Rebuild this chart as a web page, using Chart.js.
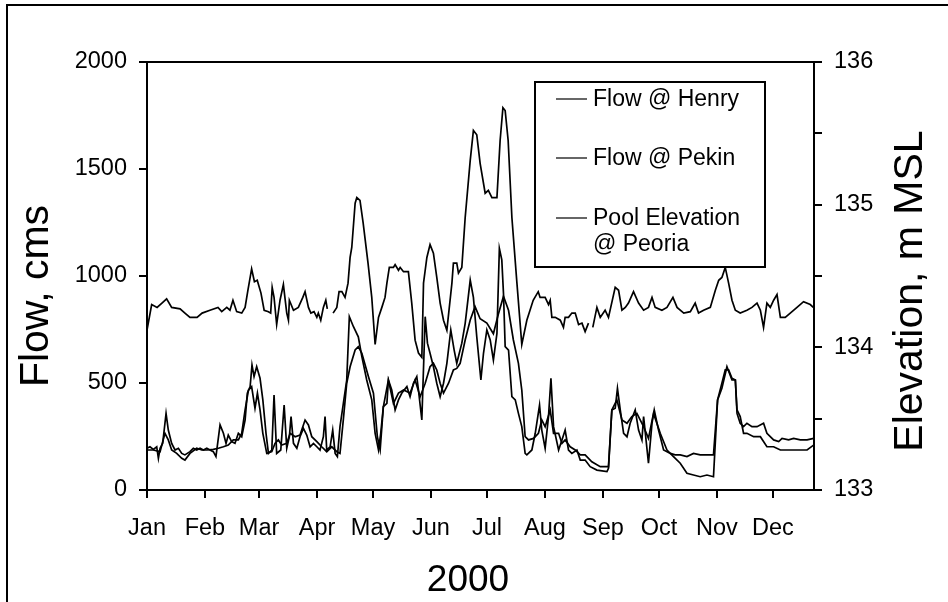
<!DOCTYPE html>
<html><head><meta charset="utf-8">
<script src="https://cdn.jsdelivr.net/npm/chart.js@4.4.1/dist/chart.umd.min.js"></script>
<style>html,body{margin:0;padding:0;background:#fff;}#wrap{width:948px;height:602px;}</style>
</head><body><div id="wrap"><canvas id="c" width="948" height="602"></canvas></div>
<script>
const monthStarts = [0,31,60,91,121,152,182,213,244,274,305,335];
const monthLabels = ['Jan','Feb','Mar','Apr','May','Jun','Jul','Aug','Sep','Oct','Nov','Dec'];
const flowTicks = [0,500,1000,1500,2000];
const elevTicks = [133,134,135,136];
const seriesNames = ['Flow @ Henry','Flow @ Pekin',['Pool Elevation','@ Peoria']];

const henryDays = [0,1.6,3.4,5.2,6.1,7.0,8.4,10.2,11.4,13.2,15.0,16.8,18.6,20.3,23.0,24.8,26.6,28.4,30.2,32.0,33.7,35.5,36.9,39.1,40.9,42.3,43.5,45.3,47.1,48.9,50.7,52.5,53.7,55.2,56.2,57.3,58.7,60.5,62.0,63.7,65.0,66.8,68.0,69.4,71.6,73.4,74.8,76.2,77.1,78.4,80.2,81.9,83.7,85.5,87.3,89.1,90.9,92.6,94.4,95.3,96.2,98.0,99.4,100.7,101.9,103.3,105.1,106.9,108.3,110.5,113.1,115.0,117.6,120.3,122.1,123.9,125.1,126.5,128.4,129.2,131.0,132.8,134.6,136.4,139.1,140.8,142.6,144.4,145.3,147.1,148.9,150.1,151.5,153.3,155.1,156.9,158.7,160.5,162.6,164.4,165.8,168.5,170.3,173.0,174.7,176.5,178.7,180.1,181.9,183.7,185.4,187.3,188.6,189.9,190.8,191.7,193.5,195.3,197.1,198.8,200.6,202.4,203.3,206.0,207.8,210.1,211.3,213.1,214.9,216.2,217.6,220.3,222.1,223.8,225.6,227.4,230.1,231.9,234.5,237.2,240.8,246.2,247.0,248.8,250.6,251.8,253.3,255.1,256.9,258.6,261.3,263.1,264.9,265.8,268.4,270.3,271.5,273.8,276.5,280.1,282.7,285.4,289.0,292.5,296.1,300.6,303.2,305.4,307.7,309.5,311.3,313.1,314.9,315.8,317.5,319.3,321.1,323.8,326.5,330.0,331.8,335.4,338.1,339.9,343.4,346.1,349.7,353.3,356.8];
const henryFlow = [195,202,190,202,148,195,218,358,280,218,187,195,171,164,179,195,187,195,187,195,187,179,156,304,265,218,257,226,218,265,249,327,452,483,584,530,576,522,421,265,171,187,444,171,187,397,195,249,343,218,195,249,288,257,202,218,202,187,249,343,187,202,280,171,156,296,405,514,810,763,716,623,514,421,265,187,265,389,405,514,467,374,421,453,483,436,499,530,467,327,810,686,639,576,499,436,499,592,748,654,592,686,779,981,900,716,514,639,748,701,607,732,1129,1075,919,670,654,436,421,358,296,171,164,187,265,397,280,195,343,522,296,187,234,280,187,171,187,140,140,109,93,86,101,374,382,475,374,265,249,312,374,280,234,343,125,312,374,280,187,171,164,164,156,171,164,164,164,421,499,561,561,522,514,358,312,296,312,296,296,312,265,234,226,241,234,241,234,234,241];

const pekinDays = [0,3.4,7.0,9.6,11.4,13.2,15.9,18.6,20.3,23.0,26.6,29.3,32.0,35.5,38.2,40.9,43.5,46.2,48.9,50.7,52.5,54.3,56.0,57.8,59.1,60.5,62.0,64.1,66.8,68.5,70.3,72.1,74.8,76.6,79.3,81.9,84.6,86.4,88.2,90.9,93.5,96.2,98.9,101.6,103.3,105.1,106.9,108.7,111.4,113.1,115.0,118.5,121.2,123.3,124.8,126.5,129.2,131.9,134.6,137.3,140.8,143.5,146.2,148.9,151.5,153.3,155.1,156.9,158.7,161.4,164.0,165.8,167.6,170.3,173.0,175.6,178.3,181.9,185.4,188.0,190.8,193.5,196.1,198.8,200.6,202.4,204.2,206.9,209.5,211.3,213.1,215.8,217.6,220.3,222.1,223.8,226.5,229.2,231.9,234.5,238.1,242.6,247.0,248.8,251.5,254.2,256.9,259.5,262.2,265.8,268.4,271.1,274.7,278.3,281.8,285.4,289.0,292.5,296.1,299.7,303.2,305.4,307.7,310.4,313.1,314.9,315.8,317.5,319.3,321.1,324.7,328.3,331.8,335.4,339.0,342.5,346.1,349.7,353.3,356.8];
const pekinFlow = [187,187,179,265,234,187,171,148,140,171,195,187,187,190,195,202,210,234,234,265,374,467,483,382,452,374,265,171,179,218,234,210,218,265,249,257,327,304,249,226,202,179,202,179,171,330,499,576,654,670,639,530,452,249,187,389,514,405,453,467,453,514,436,499,576,592,561,499,453,499,561,568,592,701,794,857,800,780,730,820,905,840,701,592,467,249,234,241,265,327,296,374,265,265,218,234,202,187,164,164,132,109,109,374,421,327,312,343,358,296,241,358,265,187,156,125,78,70,62,70,62,421,475,576,514,514,374,343,265,265,249,249,202,202,187,187,187,187,187,210];

const elevDays = [0,2.5,5.4,8,10.5,13.2,17.7,20.3,23,26.8,29.5,33.7,38,40,42.7,44.4,46,48,50.7,52.5,54,56,57.5,59,61,62.7,65,66.2,67,68,69.4,71.2,73,74.8,75.7,76.2,78.4,81,83.4,84.6,86.4,87.7,89.4,90.9,91.7,93,94.4,95.7,96.5,97.5,99.6,101.6,102.8,104.3,106,107.6,108.7,109.6,111.4,112.3,114,115.7,118.3,120.3,122.1,123.9,125.7,127.4,128.4,129.7,131.9,132.8,134.6,135.5,137.3,139.9,141.7,143.5,145.3,147.1,148,149.8,151.5,153.3,155.1,156.9,158.7,160.5,163.2,164,165.8,166.7,168.5,170.3,173,174.7,176.5,178.3,181,182.7,184.6,187.3,189,190.5,191.7,193.3,195.3,198,200.6,203.3,206.7,209.4,210.4,213.1,214.9,215.8,216.7,218.5,221.2,222.9,223.8,225.6,227.4,229.2,231,232.8,234.5,236.3,237.5,238.6,240.8,242.6,245.2,247,250.6,252.4,254.2,256,257.7,260.4,263.1,265.8,268.4,270.3,272,275.6,278.3,281.5,283.7,287.3,290.8,293.4,295.2,297.9,301.5,304.2,306,307.7,309.5,311.3,313.1,314.9,317.5,321.1,323.8,326.5,328.3,330,331.8,333.6,335.4,337.2,339,341.6,344.3,347.9,351.4,355,356.6];
const elevValues = [134.12,134.30,134.28,134.31,134.34,134.28,134.27,134.24,134.21,134.21,134.24,134.26,134.28,134.25,134.28,134.26,134.33,134.25,134.24,134.28,134.40,134.55,134.46,134.47,134.38,134.26,134.25,134.24,134.42,134.35,134.16,134.33,134.44,134.24,134.19,134.33,134.26,134.28,134.35,134.39,134.28,134.24,134.25,134.21,134.24,134.19,134.28,134.33,134.27,null,134.24,134.28,134.39,134.39,134.35,134.45,134.63,134.70,135.01,135.05,135.03,134.87,134.59,134.35,134.02,134.21,134.28,134.35,134.45,134.56,134.56,134.58,134.54,134.56,134.53,134.53,134.31,134.05,133.96,133.93,134.45,134.63,134.72,134.66,134.49,134.31,134.19,134.12,134.45,134.59,134.59,134.52,134.56,134.91,135.31,135.52,135.49,135.29,135.08,135.10,135.05,135.05,135.45,135.68,135.66,135.45,134.91,134.45,134.02,134.19,134.33,134.39,134.35,134.35,134.30,134.33,134.21,134.21,134.19,134.14,134.21,134.21,134.24,134.24,134.16,134.17,134.11,134.17,null,134.14,134.28,134.21,134.26,134.21,134.42,134.40,134.26,134.28,134.31,134.39,134.31,134.26,134.28,134.35,134.28,134.26,134.28,134.35,134.28,134.24,134.25,134.31,134.24,134.26,134.28,134.40,134.47,134.49,134.56,134.45,134.33,134.26,134.24,134.26,134.28,134.31,134.26,134.14,134.31,134.28,134.33,134.37,134.21,134.21,134.24,134.28,134.32,134.30,134.28];

const FONT = "'Liberation Sans', Arial, Helvetica, sans-serif";
const toXY = (xs, ys) => xs.map((d, i) => ({x: d, y: ys[i]}));
const tickGrid = {display: true, drawOnChartArea: false, drawTicks: true, tickLength: 8, color: '#000', lineWidth: 2};
const axisBorder = {display: true, color: '#000', width: 2};
const tickFont = {family: FONT, size: 23.5};

const decor = {
  id: 'decor',
  afterDraw(chart) {
    const ctx = chart.ctx, a = chart.chartArea;
    ctx.save();
    ctx.strokeStyle = '#000';
    ctx.lineWidth = 2;
    ctx.beginPath(); ctx.moveTo(7, 602); ctx.lineTo(7, 5); ctx.lineTo(948, 5); ctx.stroke();
    ctx.beginPath(); ctx.moveTo(a.left - 1, a.top); ctx.lineTo(a.right + 1, a.top); ctx.stroke();
    // legend
    const lx = 535, ly = 82, lw = 230, lh = 185;
    ctx.fillStyle = '#fff'; ctx.fillRect(lx, ly, lw, lh);
    ctx.strokeRect(lx, ly, lw, lh);
    const rows = [99, 158, 218];
    ctx.font = '23px ' + FONT;
    ctx.fillStyle = '#000';
    ctx.textAlign = 'left'; ctx.textBaseline = 'middle';
    chart.data.datasets.forEach((ds, i) => {
      ctx.lineWidth = 1.2;
      ctx.beginPath(); ctx.moveTo(556, rows[i]); ctx.lineTo(587, rows[i]); ctx.stroke();
      const lines = Array.isArray(seriesNames[i]) ? seriesNames[i] : [seriesNames[i]];
      lines.forEach((t, k) => ctx.fillText(t, 593, rows[i] + 1 + k * 26));
    });
    // axis titles
    ctx.textAlign = 'center'; ctx.textBaseline = 'middle';
    ctx.font = '41px ' + FONT;
    ctx.save(); ctx.translate(37, 296); ctx.rotate(-Math.PI / 2); ctx.fillText('Flow, cms', 0, 0); ctx.restore();
    ctx.save(); ctx.translate(911, 291); ctx.rotate(-Math.PI / 2); ctx.fillText('Elevation, m MSL', 0, 0); ctx.restore();
    ctx.font = '37px ' + FONT;
    ctx.fillText('2000', 468, 581);
    ctx.restore();
  }
};

new Chart(document.getElementById('c'), {
  type: 'line',
  data: {
    datasets: [
      {label: 'Flow @ Henry', data: toXY(henryDays, henryFlow), yAxisID: 'y'},
      {label: 'Flow @ Pekin', data: toXY(pekinDays, pekinFlow), yAxisID: 'y'},
      {label: 'Pool Elevation @ Peoria', data: toXY(elevDays, elevValues), yAxisID: 'y2', spanGaps: false}
    ].map(d => Object.assign(d, {borderColor: '#000', borderWidth: 1.7, pointRadius: 0, tension: 0, fill: false}))
  },
  options: {
    responsive: false, animation: false, devicePixelRatio: 1,
    layout: {padding: {top: 62, left: 0, right: 0, bottom: 0}},
    plugins: {legend: {display: false}, tooltip: {enabled: false}},
    scales: {
      x: {
        type: 'linear', position: 'bottom', min: 0, max: 357,
        afterBuildTicks: s => { s.ticks = monthStarts.map(v => ({value: v})); },
        ticks: {autoSkip: false, maxRotation: 0, font: tickFont, color: '#000', padding: 16,
          callback: (v, i) => monthLabels[i]},
        grid: tickGrid, border: axisBorder,
        afterFit: s => { s.height = 112; }
      },
      y: {
        position: 'left', min: 0, max: 2000,
        afterBuildTicks: s => { s.ticks = flowTicks.map(v => ({value: v})); },
        ticks: {font: tickFont, color: '#000', padding: 12, callback: v => String(v)},
        grid: tickGrid, border: axisBorder,
        afterFit: s => { s.width = 147; }
      },
      y2: {
        position: 'right', min: 133, max: 136,
        afterBuildTicks: s => {
          const t = [];
          for (let k = 0; k < elevTicks.length; k++) {
            t.push({value: elevTicks[k]});
            if (k < elevTicks.length - 1) t.push({value: elevTicks[k] + 0.5});
          }
          s.ticks = t;
        },
        ticks: {font: tickFont, color: '#000', padding: 12, callback: v => Number.isInteger(v) ? String(v) : ''},
        grid: tickGrid, border: axisBorder,
        afterFit: s => { s.width = 134; }
      }
    }
  },
  plugins: [decor]
});
</script></body></html>
